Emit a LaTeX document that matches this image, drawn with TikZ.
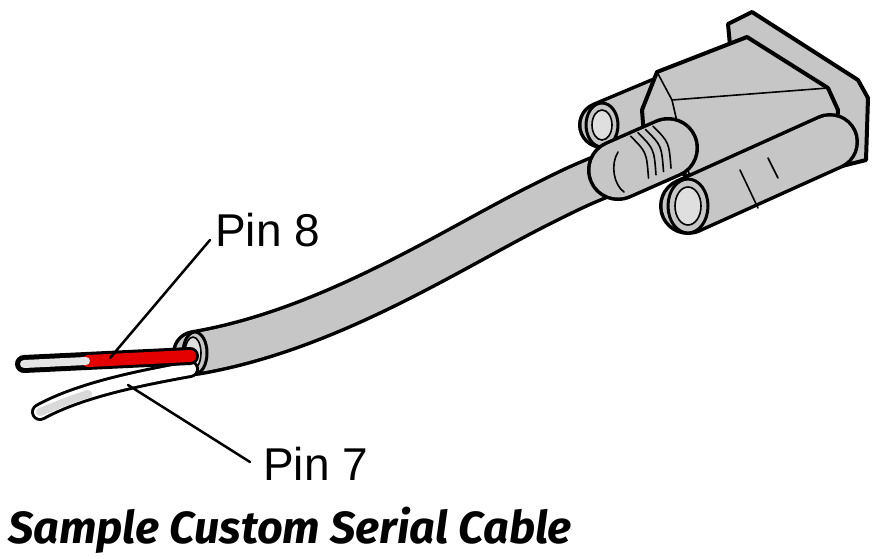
\documentclass[tikz,border=0pt]{standalone}
\usetikzlibrary{calc}
\usepackage{fontspec}
\setmainfont{Liberation Sans}
\newfontfamily\titlefont{Fira Sans}
\begin{document}
\begin{tikzpicture}[x=1pt,y=-1pt,line join=round,line cap=round,
  part/.style={fill=gray!45,draw=black,line width=4},
  thin/.style={draw=black,line width=1.6},
  lbl/.style={font=\fontsize{46}{50}\selectfont,anchor=base west,inner sep=0},
  leader/.style={draw=black,line width=2.5}]
\useasboundingbox (0,0) rectangle (886,559);
% flange
\path[part] (728,24) -- (752,12) -- (858,80) -- (868,98) -- (866,160) -- (842,166) -- (736,110) -- cycle;
% upper screw
\draw[black,line width=48] (602,125) -- (690,88);
\draw[gray!45,line width=41] (602,125) -- (690,88);
\filldraw[part,line width=3] (602,125) ellipse (16 and 22);
\draw[thin,fill=gray!25] (602,125) ellipse (10 and 15);
% body
\path[part] (642,110) -- (657,72) -- (747,37) -- (828,88) -- (838,110) -- (836,140) -- (690,178) -- (645,150) -- cycle;
\draw[thin] (657,72) -- (672,100) -- (828,88);
\draw[thin] (672,100) -- (690,178);
% cable
\draw[black,line width=46] (195,353) .. controls (330,330) and (450,250) .. (540,205) .. controls (580,185) .. (630,165);
\draw[gray!45,line width=39] (195,353) .. controls (330,330) and (450,250) .. (540,205) .. controls (580,185) .. (630,165);
% boot
\draw[black,line width=62] (618,170) -- (668,148);
\draw[gray!45,line width=55] (618,170) -- (668,148);
\foreach \t in {0.45,0.6,0.75,0.9}{
  \draw[thin] ($(618,170)!\t!(668,148)+(-10,-24)$) .. controls ($(618,170)!\t!(668,148)+(6,-8)$) .. ($(618,170)!\t!(668,148)+(8,18)$);}
\draw[thin] (618,152) .. controls (610,165) and (614,185) .. (624,192);
% lower screw
\draw[black,line width=58] (688,206) -- (830,142);
\draw[gray!45,line width=51] (688,206) -- (830,142);
\draw[thin] (740,170) -- (758,208);
\draw[thin] (768,158) -- (778,178);
\filldraw[part,line width=3] (688,206) ellipse (20 and 27);
\draw[thin,fill=gray!25] (688,206) ellipse (13 and 19);
% cable end
\filldraw[part,line width=3] (195,353) ellipse (12 and 21);
\draw[thin,fill=gray!25] (193,353) ellipse (8 and 16);
% white wire (pin 7)
\draw[black,line width=18] (190,369) .. controls (140,378) and (80,390) .. (40,412);
\draw[white,line width=12] (190,369) .. controls (140,378) and (80,390) .. (40,412);
\draw[gray!30,line width=8] (88,394) .. controls (70,400) .. (40,412);
% red wire (pin 8)
\draw[black,line width=18] (190,356) -- (24,364);
\draw[red!90!black,line width=12] (190,356) -- (88,361);
\draw[gray!20,line width=8] (86,361) -- (24,364);
% labels
\node[lbl] (p8) at (215,246) {Pin 8};
\node[lbl] (p7) at (263,480) {Pin 7};
\coordinate (w8) at (110,358);
\coordinate (w7) at (128,385);
\draw[leader] (210,240) -- (w8);
\draw[leader] (250,462) -- (w7);
\node[anchor=base west,inner sep=0,font=\titlefont\bfseries\itshape\fontsize{45}{50}\selectfont] (title) at (8,543) {Sample Custom Serial Cable};
\end{tikzpicture}
\end{document}
